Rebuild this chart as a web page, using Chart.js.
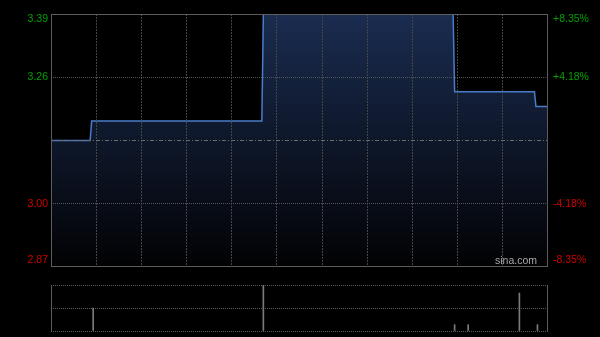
<!DOCTYPE html>
<html>
<head>
<meta charset="utf-8">
<script src="https://cdn.jsdelivr.net/npm/chart.js@4.4.1/dist/chart.umd.min.js"></script>
<style>
  html, body { margin: 0; padding: 0; background: #000; }
  #wrap { position: relative; width: 600px; height: 337px; overflow: hidden; background: #000; }
  canvas { position: absolute; left: 0; }
  #priceChart { top: 0; }
  #volChart { top: 280px; }
</style>
</head>
<body>
<div id="wrap">
  <canvas id="priceChart" width="600" height="280"></canvas>
  <canvas id="volChart" width="600" height="57"></canvas>
</div>
<script>
// minutes since open (09:30 .. 16:00, lunch removed) and last price
const minutes = [0, 26, 27, 140, 141, 267, 268, 321, 322, 330];
const prices = [3.13, 3.13, 3.17, 3.17, 3.39, 3.39, 3.23, 3.23, 3.20, 3.20];

// volume bars
const volMinutes = [28, 141, 268, 277, 311, 323, 330];
const volumes = [4000, 8000, 1100, 1100, 6600, 1100, 1100];

// axes
const priceTicks = [3.39, 3.26, 3.13, 3.00, 2.87];
const priceLabels = ["3.39", "3.26", "", "3.00", "2.87"];
const pctLabels = ["+8.35%", "+4.18%", "", "-4.18%", "-8.35%"];
const timeTicks = [30, 60, 90, 120, 150, 180, 210, 240, 270, 300];
const prevClose = 3.13;
const totalMinutes = 330;

const UP = "#00a000";
const DOWN = "#d00000";
const FONT = '10.5px "Liberation Sans", Arial, sans-serif';

const priceFrame = {
  id: "priceFrame",
  afterDraw(chart) {
    const ctx = chart.ctx;
    const a = chart.chartArea;
    const yScale = chart.scales.y;
    ctx.save();
    ctx.strokeStyle = "#5c5c5c";
    ctx.lineWidth = 1;
    ctx.strokeRect(a.left + 0.5, a.top + 0.5, a.right - a.left - 1, a.bottom - a.top - 1);

    ctx.font = FONT;
    ctx.textBaseline = "middle";
    priceTicks.forEach(function (v, i) {
      let y = yScale.getPixelForValue(v);
      y = Math.min(Math.max(y, a.top + 5), a.bottom - 7);
      ctx.fillStyle = v > prevClose ? UP : DOWN;
      ctx.textAlign = "right";
      ctx.fillText(priceLabels[i], a.left - 3, y);
      ctx.textAlign = "left";
      ctx.fillText(pctLabels[i], a.right + 5, y);
    });

    ctx.fillStyle = "#a8a8a8";
    ctx.textAlign = "right";
    ctx.fillText("sina.com", a.right - 11, a.bottom - 6);
    ctx.restore();
  }
};

const volFrame = {
  id: "volFrame",
  afterDraw(chart) {
    const ctx = chart.ctx;
    const a = chart.chartArea;
    ctx.save();
    ctx.strokeStyle = "#5c5c5c";
    ctx.lineWidth = 1;
    ctx.beginPath();
    ctx.moveTo(a.left + 0.5, a.top);
    ctx.lineTo(a.left + 0.5, a.bottom);
    ctx.moveTo(a.right - 0.5, a.top);
    ctx.lineTo(a.right - 0.5, a.bottom);
    ctx.stroke();
    ctx.restore();
  }
};

const priceChart = new Chart(document.getElementById("priceChart").getContext("2d"), {
  type: "line",
  data: {
    datasets: [
      {
        data: minutes.map(function (m, i) { return { x: m, y: prices[i] }; }),
        borderColor: "#4a7cc8",
        borderWidth: 1.5,
        pointRadius: 0,
        tension: 0,
        fill: "start",
        backgroundColor: function (context) {
          const a = context.chart.chartArea;
          if (!a) return "rgba(0,0,0,0)";
          const g = context.chart.ctx.createLinearGradient(0, a.top, 0, a.bottom);
          g.addColorStop(0, "rgb(26,44,80)");
          g.addColorStop(1, "rgb(2,2,4)");
          return g;
        },
      },
    ],
  },
  options: {
    responsive: false,
    animation: false,
    events: [],
    layout: { padding: { top: 14, right: 52, left: 0, bottom: 0 } },
    plugins: { legend: { display: false }, tooltip: { enabled: false } },
    scales: {
      x: {
        type: "linear",
        min: 0,
        max: totalMinutes,
        afterBuildTicks: function (s) { s.ticks = timeTicks.map(function (v) { return { value: v }; }); },
        ticks: { display: false },
        grid: { drawTicks: false, color: "#454545", lineWidth: 1, z: 1 },
        border: { display: false, dash: [2, 1] },
        afterFit: function (s) { s.height = 13; },
      },
      y: {
        type: "linear",
        position: "left",
        min: 2.87,
        max: 3.39,
        afterBuildTicks: function (s) { s.ticks = priceTicks.map(function (v) { return { value: v }; }); },
        ticks: { display: false },
        grid: {
          drawTicks: false,
          z: 1,
          color: function (c) {
            if (!c.tick) return "#555555";
            if (c.tick.value === priceTicks[0] || c.tick.value === priceTicks[priceTicks.length - 1]) return "rgba(0,0,0,0)";
            return c.tick.value === prevClose ? "#6a6a6a" : "#555555";
          },
        },
        border: {
          display: false,
          dash: function (c) { return c.tick && c.tick.value === prevClose ? [4, 2, 1, 2] : [1, 1]; },
        },
        afterFit: function (s) { s.width = 51; },
      },
    },
  },
  plugins: [priceFrame],
});

const maxVol = Math.max.apply(null, volumes);

const volChart = new Chart(document.getElementById("volChart").getContext("2d"), {
  type: "bar",
  data: {
    datasets: [
      {
        data: volMinutes.map(function (m, i) { return { x: m, y: volumes[i] }; }),
        backgroundColor: "#7a7a7a",
        barThickness: 1,
      },
    ],
  },
  options: {
    responsive: false,
    animation: false,
    events: [],
    layout: { padding: { top: 5, right: 52, left: 0, bottom: 6 } },
    plugins: { legend: { display: false }, tooltip: { enabled: false } },
    scales: {
      x: { type: "linear", min: 0, max: totalMinutes, offset: false, display: false },
      y: {
        min: 0,
        max: maxVol,
        afterBuildTicks: function (s) { s.ticks = [{ value: 0 }, { value: maxVol / 2 }, { value: maxVol }]; },
        ticks: { display: false },
        grid: { drawTicks: false, color: "#5c5c5c" },
        border: { display: false, dash: [1, 1] },
        afterFit: function (s) { s.width = 51; },
      },
    },
  },
  plugins: [volFrame],
});
</script>
</body>
</html>
